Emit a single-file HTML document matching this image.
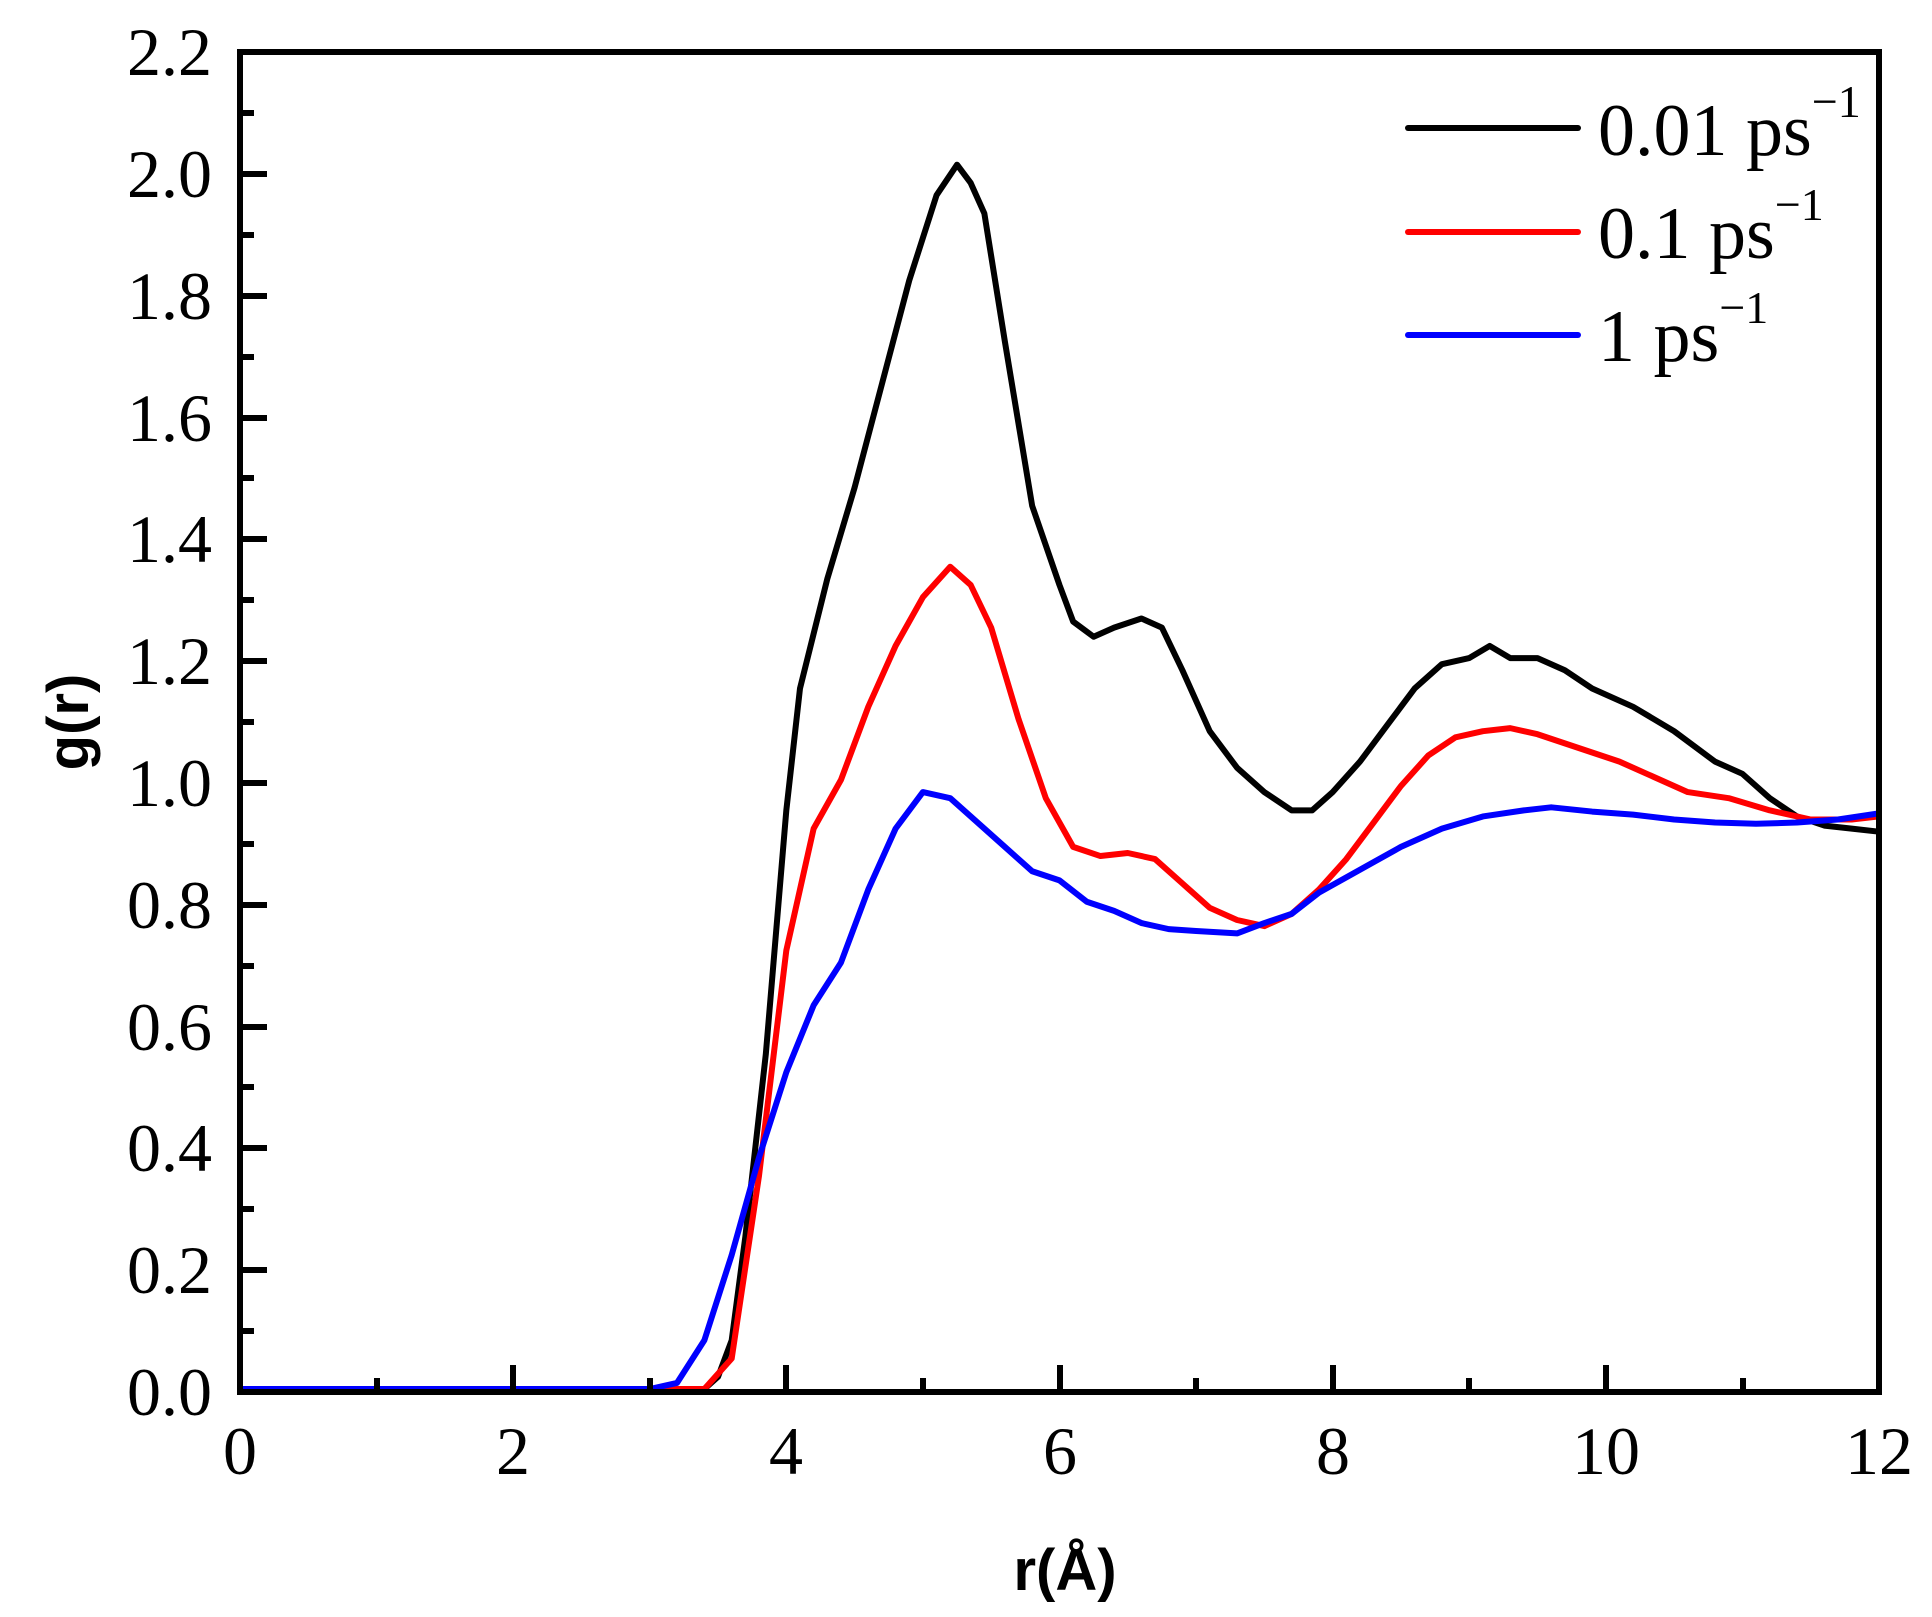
<!DOCTYPE html>
<html><head><meta charset="utf-8"><style>body{margin:0;background:#fff}svg{display:block}.t{font-family:"Liberation Serif","Times New Roman",serif}.s{font-family:"Liberation Sans",Arial,sans-serif;font-weight:bold}</style></head><body>
<svg width="1932" height="1617" viewBox="0 0 1932 1617" xmlns="http://www.w3.org/2000/svg">
<rect width="1932" height="1617" fill="#fff"/>
<g transform="translate(240,1389) scale(136.58,-609.1)" fill="none" stroke-linejoin="round" stroke-linecap="round">
<polyline vector-effect="non-scaling-stroke" stroke="#000" stroke-width="6" points="0,0 3.4,0 3.5,0.02 3.6,0.08 3.7,0.25 3.85,0.55 4.0,0.95 4.1,1.15 4.3,1.33 4.5,1.48 4.7,1.65 4.9,1.82 5.1,1.96 5.25,2.01 5.35,1.98 5.45,1.93 5.6,1.72 5.8,1.45 6.0,1.32 6.1,1.26 6.25,1.235 6.4,1.25 6.6,1.265 6.75,1.25 6.9,1.18 7.1,1.08 7.3,1.02 7.5,0.98 7.7,0.95 7.85,0.95 8.0,0.98 8.2,1.03 8.4,1.09 8.6,1.15 8.8,1.19 9.0,1.2 9.15,1.22 9.3,1.2 9.5,1.2 9.7,1.18 9.9,1.15 10.2,1.12 10.5,1.08 10.8,1.03 11.0,1.01 11.2,0.97 11.4,0.94 11.6,0.925 11.8,0.92 12,0.915"/>
<polyline vector-effect="non-scaling-stroke" stroke="#f00" stroke-width="6" points="0,0 3.4,0 3.6,0.05 3.8,0.35 4.0,0.72 4.2,0.92 4.4,1.0 4.6,1.12 4.8,1.22 5.0,1.3 5.2,1.35 5.35,1.32 5.5,1.25 5.7,1.1 5.9,0.97 6.1,0.89 6.3,0.875 6.5,0.88 6.7,0.87 6.9,0.83 7.1,0.79 7.3,0.77 7.5,0.76 7.7,0.78 7.9,0.82 8.1,0.87 8.3,0.93 8.5,0.99 8.7,1.04 8.9,1.07 9.1,1.08 9.3,1.085 9.5,1.075 9.7,1.06 9.9,1.045 10.1,1.03 10.3,1.01 10.6,0.98 10.9,0.97 11.2,0.95 11.5,0.935 11.8,0.935 12,0.94"/>
<polyline vector-effect="non-scaling-stroke" stroke="#00f" stroke-width="6" points="0,0 3.0,0 3.2,0.01 3.4,0.08 3.6,0.22 3.8,0.38 4.0,0.52 4.2,0.63 4.4,0.7 4.6,0.82 4.8,0.92 5.0,0.98 5.2,0.97 5.4,0.93 5.6,0.89 5.8,0.85 6.0,0.835 6.2,0.8 6.4,0.785 6.6,0.765 6.8,0.755 7.0,0.752 7.3,0.748 7.5,0.765 7.7,0.78 7.9,0.815 8.1,0.84 8.3,0.865 8.5,0.89 8.8,0.92 9.1,0.94 9.4,0.95 9.6,0.955 9.9,0.948 10.2,0.943 10.5,0.935 10.8,0.93 11.1,0.928 11.4,0.93 11.7,0.935 12,0.945"/>
</g>
<rect x="240" y="52" width="1639" height="1340" fill="none" stroke="#000" stroke-width="6"/>
<g stroke="#000" stroke-width="6">
<path d="M240,1392h27M240,1270h27M240,1148h27M240,1027h27M240,905h27M240,783h27M240,661h27M240,539h27M240,418h27M240,296h27M240,174h27M240,52h27"/>
<path d="M240,1331h14M240,1209h14M240,1087h14M240,966h14M240,844h14M240,722h14M240,600h14M240,478h14M240,357h14M240,235h14M240,113h14"/>
<path d="M513,1392v-27M786,1392v-27M1060,1392v-27M1333,1392v-27M1606,1392v-27"/>
<path d="M377,1392v-14M650,1392v-14M923,1392v-14M1196,1392v-14M1469,1392v-14M1743,1392v-14"/>
</g>
<g class="t" font-size="68" text-anchor="end">
<text x="212" y="1415">0.0</text><text x="212" y="1293">0.2</text><text x="212" y="1171">0.4</text><text x="212" y="1050">0.6</text><text x="212" y="928">0.8</text><text x="212" y="806">1.0</text><text x="212" y="684">1.2</text><text x="212" y="562">1.4</text><text x="212" y="441">1.6</text><text x="212" y="319">1.8</text><text x="212" y="197">2.0</text><text x="212" y="75">2.2</text>
</g>
<g class="t" font-size="68" text-anchor="middle">
<text x="240" y="1474">0</text><text x="513" y="1474">2</text><text x="786" y="1474">4</text><text x="1060" y="1474">6</text><text x="1333" y="1474">8</text><text x="1606" y="1474">10</text><text x="1879" y="1474">12</text>
</g>
<text class="s" x="1065" y="1590" font-size="58" text-anchor="middle">r(Å)</text>
<text class="s" transform="translate(88,722) rotate(-90)" font-size="58" text-anchor="middle">g(r)</text>
<g stroke-width="6" stroke-linecap="round">
<line x1="1408" y1="128" x2="1578" y2="128" stroke="#000"/>
<line x1="1408" y1="232" x2="1578" y2="232" stroke="#f00"/>
<line x1="1408" y1="335" x2="1578" y2="335" stroke="#00f"/>
</g>
<g class="t" font-size="74">
<text x="1598" y="155">0.01 ps<tspan font-size="46" dy="-38">−1</tspan></text>
<text x="1598" y="258">0.1 ps<tspan font-size="46" dy="-38">−1</tspan></text>
<text x="1598" y="361">1 ps<tspan font-size="46" dy="-38">−1</tspan></text>
</g>
</svg>
</body></html>
